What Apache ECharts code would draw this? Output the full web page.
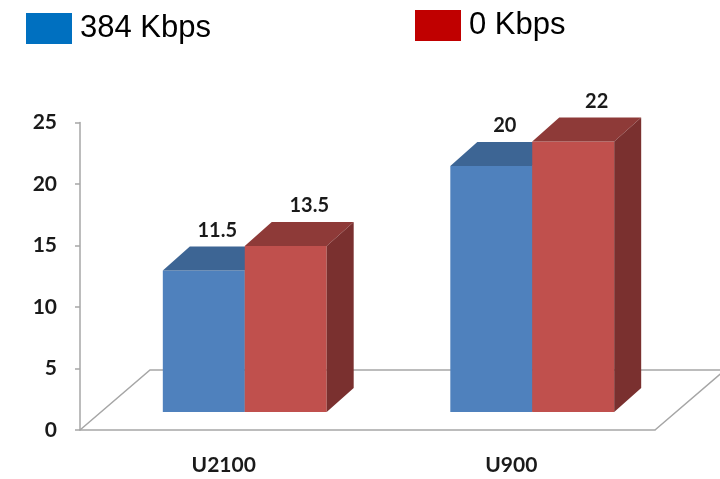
<!DOCTYPE html>
<html>
<head>
<meta charset="utf-8">
<title>U2100 / U900</title>
<script src="https://cdn.jsdelivr.net/npm/echarts/dist/echarts.min.js"></script>
<style>
  html, body { margin: 0; padding: 0; background: #fff; }
  #chart { width: 720px; height: 479px; }
</style>
</head>
<body>
<div id="chart"></div>
<script>
// data
const categories = ["U2100", "U900"];
const kbps384 = [11.5, 20];
const kbps0 = [13.5, 22];
const yMin = 0;
const yMax = 25;
const yStep = 5;

// fake 3D look (pixels)
const FRONT = [21, -18];      // bars stand a bit back on the floor
const DEPTH = [27, -24];      // bar depth
const FLOOR = [70, -60];      // floor depth
const BAR_RATIO = 0.285;      // bar width / band width

const chart = echarts.init(document.getElementById("chart"));

// one renderer per series: side 0 = left bar, 1 = right bar
const barRenderer = (side, colors, labelDx) => (params, api) => {
  const cat = api.value(0);
  const val = api.value(1);
  const base = api.coord([cat, 0]);
  const top = api.coord([cat, val]);
  const band = api.size([1, 0])[0];
  const w = band * BAR_RATIO;
  const x0 = base[0] + FRONT[0] - (side === 0 ? w : 0);
  const yb = base[1] + FRONT[1];
  const yt = top[1] + FRONT[1];
  const [dx, dy] = DEPTH;

  return {
    type: "group",
    children: [
      {
        type: "rect",
        shape: { x: x0, y: yt, width: w, height: yb - yt },
        style: { fill: colors.front },
      },
      {
        type: "polygon",
        shape: { points: [[x0, yt], [x0 + w, yt], [x0 + w + dx, yt + dy], [x0 + dx, yt + dy]] },
        style: { fill: colors.top },
      },
      {
        type: "polygon",
        shape: { points: [[x0 + w, yt], [x0 + w + dx, yt + dy], [x0 + w + dx, yb + dy], [x0 + w, yb]] },
        style: { fill: colors.side },
      },
      {
        type: "text",
        style: {
          x: x0 + w / 2 + dx / 2 + labelDx,
          y: yt + dy - 16,
          text: String(val),
          font: "bold 20px Lato",
          fill: "#1a1a1a",
          align: "center",
          verticalAlign: "middle",
        },
      },
    ],
  };
};

// floor lines behind the bars
const floorRenderer = (params) => {
  const g = params.coordSys;
  const x = g.x, yb = g.y + g.height, xr = g.x + g.width;
  return {
    type: "polyline",
    shape: {
      points: [
        [xr, yb],
        [xr + FLOOR[0], yb + FLOOR[1]],
        [x + FLOOR[0], yb + FLOOR[1]],
        [x, yb],
      ],
    },
    style: { stroke: "#a6a6a6", lineWidth: 1.5, fill: null },
  };
};

const legendText = { fontFamily: "Liberation Sans", fontSize: 31, color: "#000", padding: [0, 0, 0, 3] };

const option = {
  animation: false,
  legend: [
    {
      left: 21,
      top: 8,
      icon: "rect",
      itemWidth: 46,
      itemHeight: 31,
      textStyle: legendText,
      data: [{ name: "384 Kbps", itemStyle: { color: "#0070C0" } }],
    },
    {
      left: 410,
      top: 5,
      icon: "rect",
      itemWidth: 46,
      itemHeight: 31,
      textStyle: legendText,
      data: [{ name: "0 Kbps", itemStyle: { color: "#C00000" } }],
    },
  ],
  grid: {
    left: 80,
    right: 65,
    top: 122.5,
    bottom: 49,
  },
  xAxis: {
    type: "category",
    data: categories,
    axisLine: { lineStyle: { color: "#a6a6a6", width: 1.5 } },
    axisTick: { length: 7, lineStyle: { color: "#a6a6a6", width: 1.5 } },
    axisLabel: {
      margin: 25,
      fontFamily: "Lato",
      fontWeight: "bold",
      fontSize: 21,
      color: "#1a1a1a",
    },
  },
  yAxis: {
    type: "value",
    min: yMin,
    max: yMax,
    interval: yStep,
    splitLine: { show: false },
    axisLine: { show: true, lineStyle: { color: "#a6a6a6", width: 1.5 } },
    axisTick: { show: true, length: 5, lineStyle: { color: "#a6a6a6", width: 1.5 } },
    axisLabel: {
      margin: 23,
      fontFamily: "Lato",
      fontWeight: "bold",
      fontSize: 21,
      color: "#1a1a1a",
    },
  },
  series: [
    {
      name: "floor",
      type: "custom",
      silent: true,
      z: 1,
      renderItem: floorRenderer,
      data: [[0, 0]],
    },
    {
      name: "384 Kbps",
      type: "custom",
      z: 2,
      itemStyle: { color: "#4F81BD" },
      renderItem: barRenderer(0, { front: "#4F81BD", top: "#3D6594", side: "#34567F" }, 0),
      data: kbps384.map((v, i) => [i, v]),
    },
    {
      name: "0 Kbps",
      type: "custom",
      z: 3,
      itemStyle: { color: "#C0504D" },
      renderItem: barRenderer(1, { front: "#C0504D", top: "#8E3A38", side: "#7A302F" }, 10),
      data: kbps0.map((v, i) => [i, v]),
    },
  ],
};

chart.setOption(option);
window.addEventListener("resize", () => chart.resize());
</script>
</body>
</html>
